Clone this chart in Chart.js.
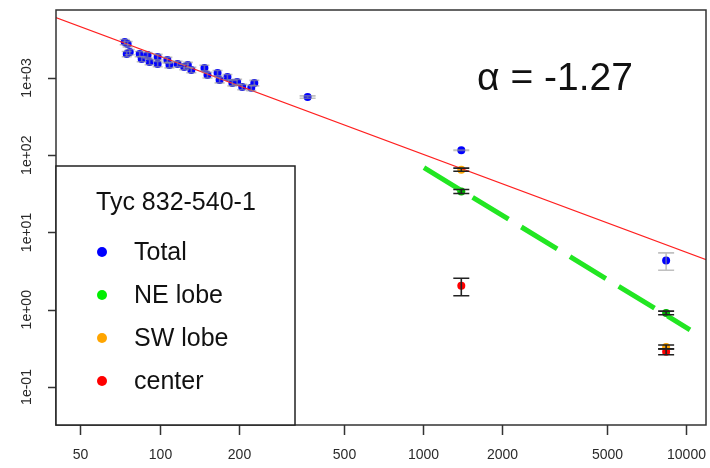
<!DOCTYPE html>
<html>
<head>
<meta charset="utf-8">
<script src="https://cdn.jsdelivr.net/npm/chart.js@4.4.1/dist/chart.umd.min.js"></script>
<style>
  html, body { margin: 0; padding: 0; background: #fff; }
  #wrap { width: 710px; height: 468px; }
</style>
</head>
<body>
<div id="wrap"><canvas id="c" width="710" height="468"></canvas></div>
<script>
const FONT = '"Liberation Sans", Arial, Helvetica, sans-serif';

/* Flux densities (mJy) against frequency (MHz). */
const totalFreq = [73.7, 75.0, 75.6, 77.0, 84.0, 85.5, 90.0, 91.6, 98.3, 98.3, 107, 109, 117, 124, 128, 132,
  148, 152, 166, 169, 181, 189, 197, 206, 223, 229, 365, 1400, 8400];
const totalFlux = [2920, 2040, 2750, 2170, 2040, 1760, 1980, 1610, 1870, 1520, 1710, 1470, 1520, 1390, 1470, 1270,
  1350, 1090, 1160, 940, 1030, 860, 890, 765, 745, 860, 567, 116, 4.35];
const totalErr = [230, 160, 220, 170, 160, 140, 160, 130, 150, 120, 140, 120, 120, 110, 120, 100,
  110, 90, 90, 75, 80, 70, 70, 60, 60, 70, 20, 1, 1.1];

const neFreq = [1400, 8400];
const neFlux = [34, 0.91];
const neErr = [2, 0.05];

const swFreq = [1400, 8400];
const swFlux = [65, 0.33];
const swErr = [3, 0.02];

const centerFreq = [1400, 8400];
const centerFlux = [2.04, 0.286];
const centerErr = [0.52, 0.025];

/* Power-law fit over all (red) and NE lobe fit (green dashed), end points. */
const fitFreq = [40, 12000];
const fitFlux = [6100, 4.4];
const neFitFreq = [1010, 10350];
const neFitFlux = [69, 0.55];

const xTicks = [50, 100, 200, 500, 1000, 2000, 5000, 10000];
const xTickLabels = ['50', '100', '200', '500', '1000', '2000', '5000', '10000'];
const yTicks = [0.1, 1, 10, 100, 1000];
const yTickLabels = ['1e-01', '1e+00', '1e+01', '1e+02', '1e+03'];

const legendTitle = 'Tyc 832-540-1';
const seriesNames = ['Total', 'NE lobe', 'SW lobe', 'center'];
const seriesColors = ['#0000ff', '#00ee00', '#ffa500', '#ff0000'];
const annotation = '\u03b1 = -1.27';

const pts = (xs, ys) => xs.map((x, i) => ({ x, y: ys[i] }));

function pointSet(label, xs, ys, errs, color, errColor, cap) {
  return {
    label,
    type: 'scatter',
    data: pts(xs, ys),
    errors: errs,
    errColor,
    cap,
    backgroundColor: color,
    borderColor: color,
    pointRadius: 4,
    pointBorderWidth: 0,
    showLine: false,
  };
}

/* Error bars with flat caps, R arrows(angle = 90) style. */
const errorBars = {
  id: 'errorBars',
  afterDatasetsDraw(chart) {
    const { ctx, scales: { x, y } } = chart;
    ctx.save();
    chart.data.datasets.forEach((ds) => {
      if (!ds.errors) return;
      ctx.strokeStyle = ds.errColor;
      ctx.lineWidth = 1.6;
      ds.data.forEach((p, i) => {
        const e = ds.errors[i];
        const c = p.x < 300 ? 5 : ds.cap;
        const px = x.getPixelForValue(p.x);
        const hi = y.getPixelForValue(p.y + e);
        const lo = y.getPixelForValue(p.y - e);
        ctx.beginPath();
        ctx.moveTo(px, hi); ctx.lineTo(px, lo);
        ctx.moveTo(px - c, hi); ctx.lineTo(px + c, hi);
        ctx.moveTo(px - c, lo); ctx.lineTo(px + c, lo);
        ctx.stroke();
      });
    });
    ctx.restore();
  },
};

/* Box, tick marks, tick labels, annotation and the boxed legend. */
const rFrame = {
  id: 'rFrame',
  afterDraw(chart) {
    const { ctx, chartArea: a, scales: { x, y } } = chart;
    ctx.save();
    ctx.strokeStyle = '#333';
    ctx.lineWidth = 1.5;
    ctx.strokeRect(a.left, a.top, a.right - a.left, a.bottom - a.top);

    ctx.fillStyle = '#2a2a2a';
    ctx.font = `14px ${FONT}`;
    ctx.textAlign = 'center';
    ctx.textBaseline = 'middle';
    ctx.beginPath();
    xTicks.forEach((v, i) => {
      const px = Math.round(x.getPixelForValue(v)) + 0.5;
      ctx.moveTo(px, a.bottom); ctx.lineTo(px, a.bottom + 10);
      ctx.fillText(xTickLabels[i], px, 455);
    });
    yTicks.forEach((v) => {
      const py = Math.round(y.getPixelForValue(v)) + 0.5;
      ctx.moveTo(a.left - 8, py); ctx.lineTo(a.left, py);
    });
    ctx.stroke();
    yTicks.forEach((v, i) => {
      const py = y.getPixelForValue(v);
      ctx.save();
      ctx.translate(27, py);
      ctx.rotate(-Math.PI / 2);
      ctx.fillText(yTickLabels[i], 0, 0);
      ctx.restore();
    });

    ctx.fillStyle = '#111';
    ctx.textAlign = 'left';
    ctx.textBaseline = 'alphabetic';
    ctx.font = `39px ${FONT}`;
    ctx.fillText(annotation, 477, 90);

    // legend box
    ctx.fillStyle = '#fff';
    ctx.fillRect(a.left, 166, 295 - a.left, a.bottom - 166);
    ctx.strokeStyle = '#222';
    ctx.strokeRect(a.left, 166, 295 - a.left, a.bottom - 166);
    ctx.fillStyle = '#111';
    ctx.font = `25px ${FONT}`;
    ctx.fillText(legendTitle, 96, 210);
    seriesNames.forEach((name, i) => {
      const cy = 252 + i * 43;
      ctx.fillStyle = seriesColors[i];
      ctx.beginPath();
      ctx.arc(102, cy, 5, 0, Math.PI * 2);
      ctx.fill();
      ctx.fillStyle = '#111';
      ctx.fillText(name, 134, cy + 8);
    });
    ctx.restore();
  },
};

new Chart(document.getElementById('c'), {
  type: 'scatter',
  data: {
    datasets: [
      {
        label: 'fit',
        type: 'line',
        data: pts(fitFreq, fitFlux),
        borderColor: '#ff2020',
        borderWidth: 1.2,
        pointRadius: 0,
        fill: false,
      },
      {
        label: 'NE fit',
        type: 'line',
        data: pts(neFitFreq, neFitFlux),
        borderColor: '#22e622',
        borderWidth: 5,
        borderDash: [42, 15],
        pointRadius: 0,
        fill: false,
      },
      pointSet(seriesNames[3], centerFreq, centerFlux, centerErr, seriesColors[3], '#222', 8),
      pointSet(seriesNames[2], swFreq, swFlux, swErr, seriesColors[2], '#222', 8),
      pointSet(seriesNames[1], neFreq, neFlux, neErr, '#00b000', '#222', 8),
      pointSet(seriesNames[0], totalFreq, totalFlux, totalErr, seriesColors[0], 'rgba(150,150,150,0.6)', 8),
    ],
  },
  options: {
    responsive: false,
    devicePixelRatio: 1,
    animation: false,
    layout: { padding: { top: 10, right: 2, left: 0, bottom: 0 } },
    scales: {
      x: {
        type: 'logarithmic',
        min: 40.4,
        max: 11906,
        grid: { display: false },
        border: { display: false },
        ticks: { display: false },
        afterFit(scale) { scale.height = 43; },
      },
      y: {
        type: 'logarithmic',
        min: 0.0322,
        max: 7583,
        grid: { display: false },
        border: { display: false },
        ticks: { display: false },
        afterFit(scale) { scale.width = 56; },
      },
    },
    plugins: {
      legend: { display: false },
      tooltip: { enabled: false },
    },
  },
  plugins: [errorBars, rFrame],
});
</script>
</body>
</html>
